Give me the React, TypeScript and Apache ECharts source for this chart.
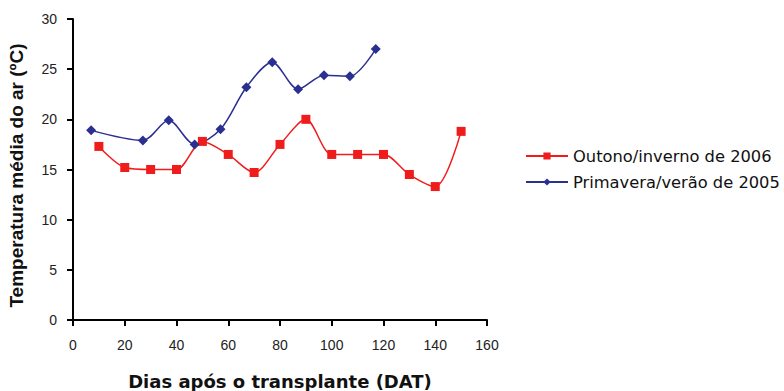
import React, { useEffect, useRef } from "react";
import * as echarts from "echarts";

const outonoDays = [10, 20, 30, 40, 50, 60, 70, 80, 90, 100, 110, 120, 130, 140, 150];
const outonoTemp = [17.3, 15.2, 15.0, 15.0, 17.8, 16.5, 14.7, 17.5, 20.0, 16.5, 16.5, 16.5, 14.5, 13.3, 18.8];
const primaveraDays = [7, 27, 37, 47, 57, 67, 77, 87, 97, 107, 117];
const primaveraTemp = [18.9, 17.9, 19.9, 17.5, 19.0, 23.2, 25.7, 23.0, 24.4, 24.3, 27.0];
const seriesNames = ["Outono/inverno de 2006", "Primavera/verão de 2005"];
const xTitle = "Dias após o transplante (DAT)";
const yTitle = "Temperatura média do ar (ºC)";

export default function App() {
  const ref = useRef<HTMLDivElement>(null);
  useEffect(() => {
    if (!ref.current) return;
    const chart = echarts.init(ref.current, undefined, { renderer: "svg" });
    const axisText = { color: "#222", fontFamily: "Liberation Sans, Arial, sans-serif", fontSize: 14 };
    chart.setOption({
      animation: false,
      backgroundColor: "#fff",
      grid: { left: 73, right: 297, top: 19, bottom: 71, containLabel: false, outerBoundsMode: "none" },
      legend: {
        orient: "vertical",
        left: 520,
        top: 143,
        itemWidth: 42,
        itemHeight: 9,
        itemGap: 10,
        data: seriesNames,
        textStyle: { color: "#111", fontFamily: "DejaVu Sans, sans-serif", fontSize: 16.3 },
      },
      xAxis: {
        type: "value",
        min: 0,
        max: 160,
        interval: 20,
        name: xTitle,
        nameLocation: "middle",
        nameGap: 52,
        nameTextStyle: { color: "#111", fontFamily: "DejaVu Sans, sans-serif", fontWeight: "bold", fontSize: 18 },
        axisLine: { show: true, onZero: false, lineStyle: { color: "#000", width: 2 } },
        axisTick: { show: true, length: 6, lineStyle: { color: "#000", width: 2 } },
        axisLabel: { ...axisText, margin: 18 },
        splitLine: { show: false },
      },
      yAxis: {
        type: "value",
        min: 0,
        max: 30,
        interval: 5,
        name: yTitle,
        nameLocation: "middle",
        nameGap: 47,
        nameRotate: 90,
        nameTextStyle: {
          color: "#111",
          fontFamily: "Liberation Sans, Arial, sans-serif",
          fontWeight: "bold",
          fontSize: 19,
          padding: [0, 12, 0, 0],
        },
        axisLine: { show: true, lineStyle: { color: "#000", width: 2 } },
        axisTick: { show: true, length: 6, lineStyle: { color: "#000", width: 2 } },
        axisLabel: { ...axisText, margin: 16 },
        splitLine: { show: false },
      },
      series: [
        {
          name: seriesNames[0],
          type: "line",
          smooth: 0.3,
          data: outonoDays.map((d, i) => [d, outonoTemp[i]]),
          symbol: "rect",
          symbolSize: 9,
          itemStyle: { color: "#f01c1c" },
          lineStyle: { color: "#f01c1c", width: 1.5 },
        },
        {
          name: seriesNames[1],
          type: "line",
          smooth: 0.3,
          data: primaveraDays.map((d, i) => [d, primaveraTemp[i]]),
          symbol: "diamond",
          symbolSize: 10,
          itemStyle: { color: "#2b2f8f" },
          lineStyle: { color: "#2b2f8f", width: 1.5 },
        },
      ],
    });
    return () => chart.dispose();
  }, []);
  return <div ref={ref} style={{ position: "fixed", left: 0, top: 0, width: 784, height: 391 }} />;
}
